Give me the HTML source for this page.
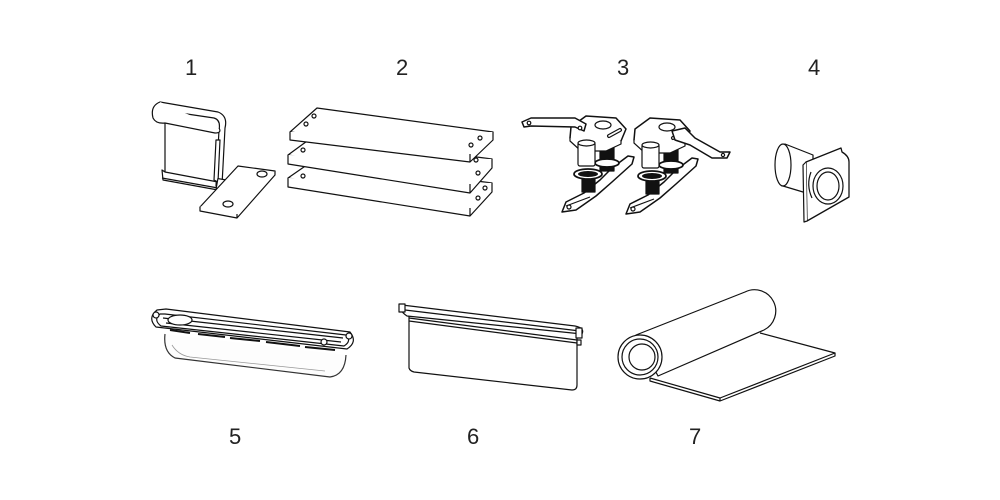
<!DOCTYPE html>
<html><head><meta charset="utf-8"><style>
html,body{margin:0;padding:0;background:#fff;}
svg{display:block;}
text{font-family:"Liberation Sans",sans-serif;font-size:22px;fill:#222;font-weight:300;}
</style></head><body>
<svg width="1000" height="500" viewBox="0 0 1000 500" xmlns="http://www.w3.org/2000/svg">
<g fill="#fff" stroke="#111" stroke-width="1.2" stroke-linejoin="round">
<text x="185" y="75" stroke="none">1</text>
<text x="396" y="75" stroke="none">2</text>
<text x="617" y="75" stroke="none">3</text>
<text x="808" y="75" stroke="none">4</text>
<text x="229" y="444" stroke="none">5</text>
<text x="467" y="444" stroke="none">6</text>
<text x="689" y="444" stroke="none">7</text>

<!-- item 1 -->
<path d="M165,123 L165,172 L218,182 L218,190 L163,180 L162,170 L165,172"/>
<path d="M162,178 L218,188"/>
<path d="M160,102 L218,112 Q228,116 225,128 L222,185 L216,186 L219,130 Q221,120 214,118 L160,110 Z"/>
<path d="M160,102 Q150,106 153,118 Q156,124 165,123 L215,133 Q222,133 219,128"/>
<path d="M216,140 L220,140 L218,182 L214,180 Z"/>
<rect x="217" y="179" width="7" height="10" transform="rotate(10 220 184)"/>
<path d="M200,207 L238,166 L275,171 L237,214 Z"/>
<path d="M200,207 L200,211 L237,218 L275,175 L275,171"/>
<path d="M237,214 L237,218"/>
<ellipse cx="262" cy="174" rx="5" ry="3"/>
<ellipse cx="228" cy="204" rx="5" ry="3"/>

<!-- item 2 -->
<g>
<path d="M288,178 L314,160 L492,183 L470,208 Z"/>
<path d="M288,178 L288,187 L470,216 L492,192 L492,183"/><path d="M470,208 L470,216"/>
<circle cx="303" cy="176" r="2"/><circle cx="478" cy="198" r="2"/><circle cx="485" cy="188" r="2"/>
</g>
<g>
<path d="M288,155 L314,136 L492,159 L470,184 Z"/>
<path d="M288,155 L288,164 L470,193 L492,168 L492,159"/><path d="M470,184 L470,193"/>
<circle cx="303" cy="150" r="2"/><circle cx="478" cy="173" r="2"/><circle cx="476" cy="160" r="2"/>
</g>
<g>
<path d="M290,132 L317,108 L493,132 L470,154 Z"/>
<path d="M290,132 L290,140 L470,162 L493,140 L493,132"/><path d="M470,154 L470,162"/>
<circle cx="314" cy="116" r="2"/><circle cx="306" cy="124" r="2"/><circle cx="480" cy="138" r="2"/><circle cx="471" cy="145" r="2"/>
</g>

<!-- item 3 -->
<g id="u3">
<path d="M562,212 L566,202 L584,193 L600,180 L612,168 L628,156 L634,157 L632,164 L612,182 L596,196 L576,210 Z" stroke-width="1.5"/>
<path d="M566,206 L590,197" fill="none"/>
<circle cx="569" cy="207" r="2"/>
<rect x="600" y="147" width="14" height="24" fill="#111"/>
<ellipse cx="607" cy="163" rx="12" ry="4" fill="#fff" stroke-width="1.8"/>
<rect x="582" y="172" width="13" height="20" fill="#111"/>
<ellipse cx="588" cy="174" rx="14" ry="5" fill="#fff" stroke-width="1.8"/>
<ellipse cx="588" cy="174" rx="10" ry="3" fill="#111" stroke="none"/>
<path d="M571,127 L586,116 L616,118 L626,129 L621,141 L606,148 L581,148 L570,138 Z" stroke-width="1.5"/>
<path d="M570,138 L570,141 L581,151 L606,151 L621,144 L621,141" />
<ellipse cx="603" cy="125" rx="8" ry="4"/>
<path d="M609,136 L620,130" stroke-width="4" stroke-linecap="round"/>
<path d="M609,136 L620,130" stroke="#fff" stroke-width="1.6" stroke-linecap="round"/>
<rect x="578" y="142" width="17" height="24" rx="2"/>
<ellipse cx="586.5" cy="143" rx="8.5" ry="3"/>
</g>
<path d="M522,122 L531,118 L575,118 L586,124 L584,131 L575,127 L531,126 L524,127 Z" stroke-width="1.5"/>
<circle cx="529" cy="123" r="1.8"/><circle cx="580" cy="128" r="1.8"/>
<use href="#u3" transform="translate(64,2)"/>
<path d="M672,131 L685,128 L695,138 L720,152 L730,152 L727,158 L712,158 L690,145 L675,140 Z" stroke-width="1.5"/>
<circle cx="723" cy="155" r="1.6"/>

<!-- item 4 -->
<path d="M785,144 L813,155 L813,195 L783,186 Q775,165 785,144 Z"/>
<ellipse cx="783" cy="165" rx="8" ry="21"/>
<path d="M806,162 L841,148 L842,152 Q849,156 849,162 L849,197 L807,221 Z" stroke-width="1.3"/>
<path d="M806,162 L803,165 L804,222 L807,221"/>
<ellipse cx="828" cy="186" rx="15" ry="18"/>
<ellipse cx="828" cy="186" rx="11" ry="14"/>
<path d="M811,172 Q806,185 812,198" fill="none"/>

<!-- item 5 -->
<path d="M165,334 Q163,352 175,358 L330,377 Q345,375 346,355" fill="#fdfdfd" stroke="#333"/>
<path d="M172,345 Q178,355 190,357 L325,371" fill="none" stroke="#999" stroke-width="0.8"/>
<path d="M157,310 Q147,318 156,327 L347,349 Q358,342 350,332 L166,309 Z"/>
<path d="M160,314 Q153,320 161,326 L344,346 Q352,341 346,335 L165,314 Z" fill="none"/>
<path d="M163,318 L343,338 M166,323 L341,342" fill="none"/>
<ellipse cx="180" cy="320" rx="12" ry="5"/>
<path d="M170,330 L190,333 M198,334 L225,337 M230,338 L260,341 M266,342 L300,346 M305,347 L335,350" stroke-width="2"/>
<circle cx="156" cy="315" r="3"/><circle cx="349" cy="336" r="3"/><circle cx="324" cy="342" r="3"/>

<!-- item 6 -->
<path d="M409,315 L409,368 Q410,371 414,372 L572,390 Q577,390 577,385 L577,337"/>
<path d="M402,305 L575,326 Q585,328 582,334 L407,316 Q398,310 402,305 Z"/>
<path d="M405,310 L580,331" fill="none"/>
<path d="M409,318 L577,340 M409,321 L577,343" fill="none"/>
<rect x="399" y="304" width="6" height="8"/><rect x="576" y="328" width="6" height="10"/>
<rect x="577" y="340" width="4" height="5"/>

<!-- item 7 -->
<path d="M650,378 L720,398 L835,353 L760,333" />
<path d="M650,378 L650,381 L720,401 L835,356 L835,353" fill="none"/>
<path d="M720,398 L720,401"/>
<path d="M636,335 L745,292 A20,20 0 0 1 764,330 L658,376 Z"/>
<circle cx="640" cy="357" r="22"/>
<circle cx="640" cy="357" r="18" fill="none"/>
<circle cx="642" cy="357" r="13"/>
</g>
</svg>
</body></html>
